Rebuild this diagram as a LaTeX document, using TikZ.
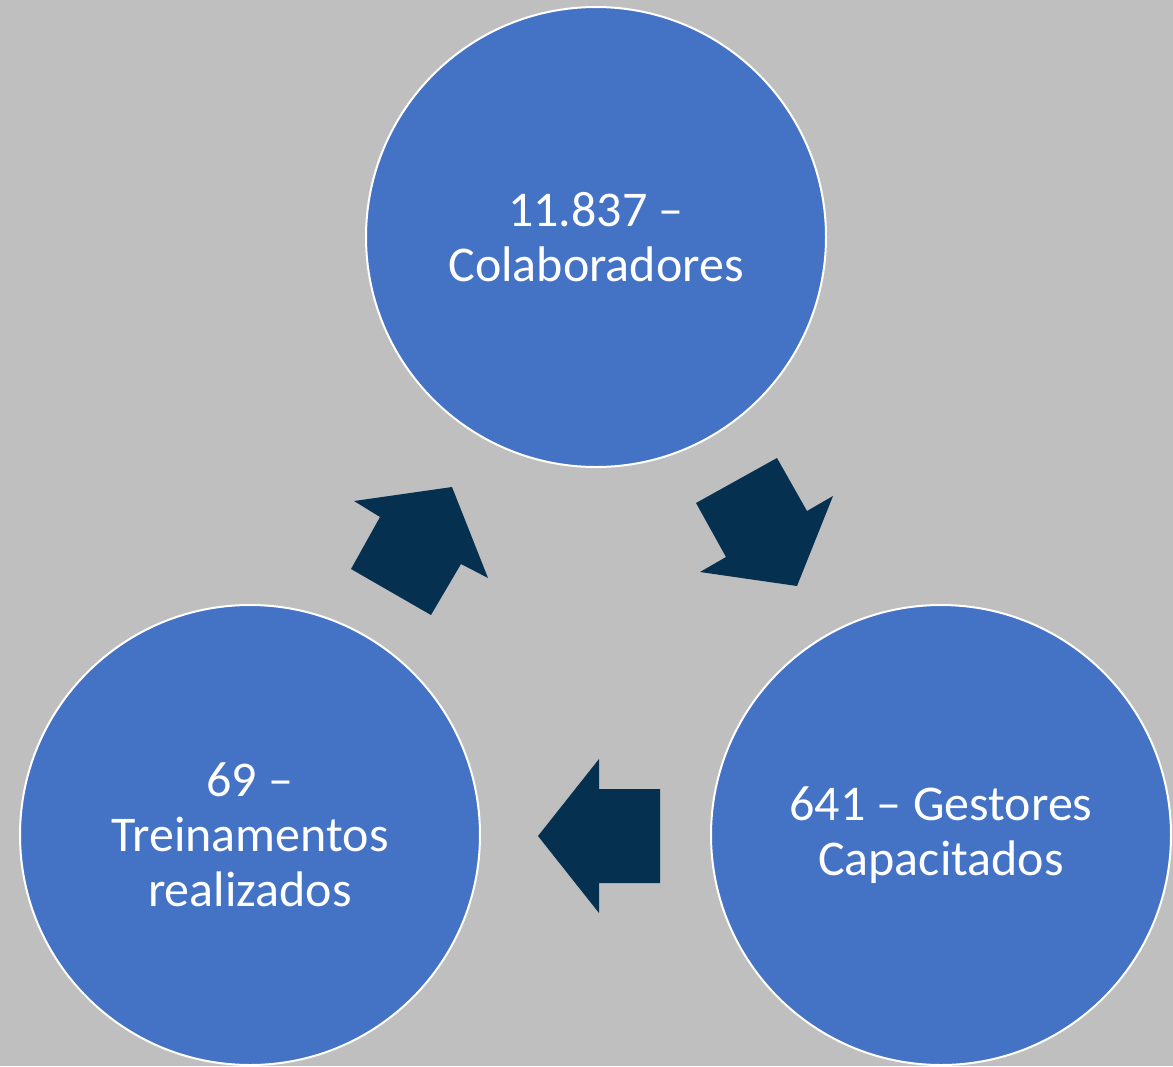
\documentclass[tikz,border=0pt]{standalone}
\usepackage{fontspec}
\setmainfont{Carlito}
\definecolor{bgc}{HTML}{BFBFBF}
\definecolor{circ}{HTML}{4472C4}
\definecolor{arrc}{HTML}{063050}
\begin{document}
\begin{tikzpicture}[x=1pt,y=-1pt,
  bubble/.style={circle, draw=white, line width=2pt, fill=circ, minimum size=460pt, inner sep=0pt,
    text=white, align=center, font=\fontsize{50}{55}\selectfont},
  blockarrow/.style={fill=arrc, draw=none}]
\fill[bgc] (0,0) rectangle (1173,1066);
\useasboundingbox (0,0) rectangle (1173,1066);
\node[bubble] (top) at (596,237) {11.837 –\\Colaboradores};
\node[bubble] (right) at (941,835) {641 – Gestores\\Capacitados};
\node[bubble] (left) at (250,835) {69 –\\Treinamentos\\realizados};
% arrow top -> right
\fill[blockarrow] (696,503) -- (777,458) -- (807,511) -- (833,496) -- (797,586) -- (700,572) -- (726,557) -- cycle;
% arrow right -> left
\fill[blockarrow] (660,789) -- (599,789) -- (599,759) -- (538,836) -- (599,913) -- (599,883) -- (660,883) -- cycle;
% arrow left -> top
\fill[blockarrow] (431,615) -- (351,569) -- (380,517) -- (354,501) -- (452,487) -- (488,578) -- (461,564) -- cycle;
\end{tikzpicture}
\end{document}
